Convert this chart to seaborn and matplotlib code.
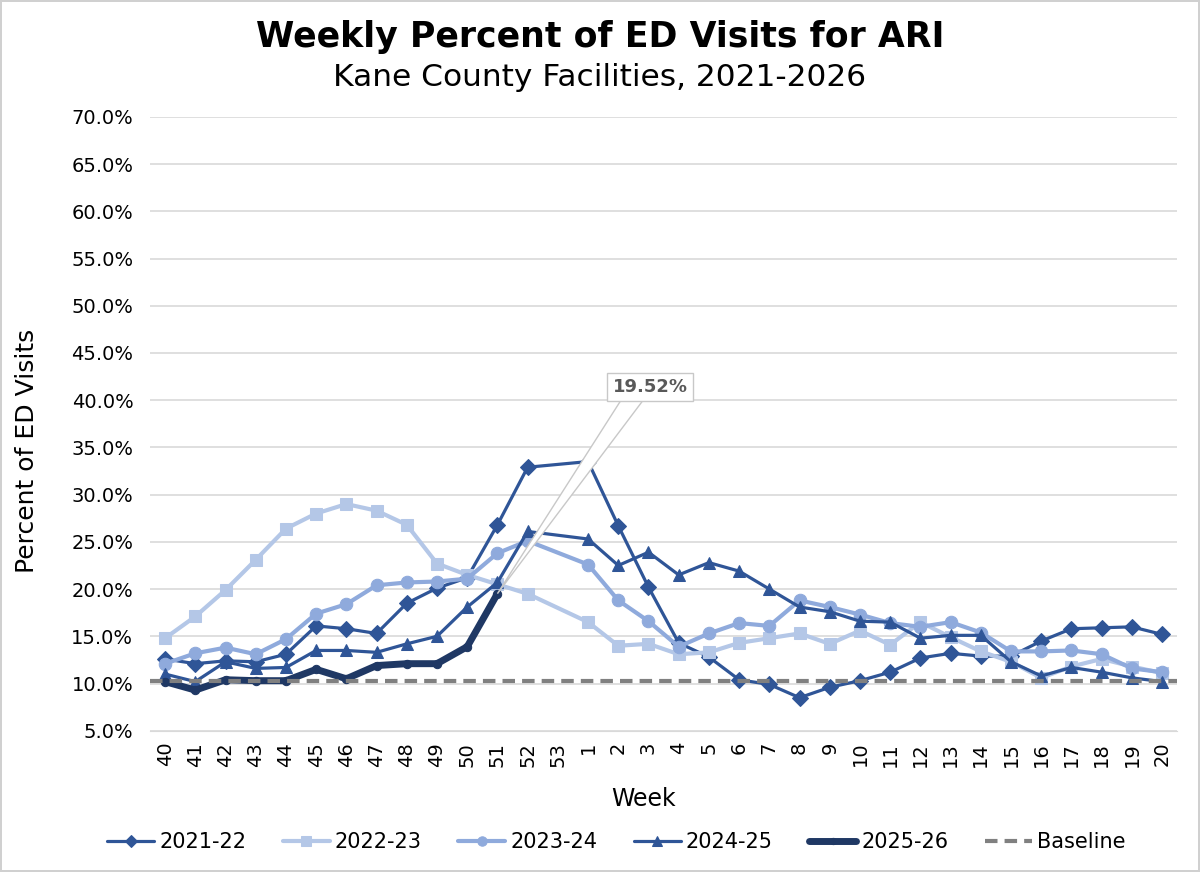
import numpy as np
import pandas as pd
import matplotlib
matplotlib.use("Agg")
import matplotlib.pyplot as plt
from matplotlib.patches import Polygon
import seaborn as sns

# week labels (flu season order)
weeks = ["40", "41", "42", "43", "44", "45", "46", "47", "48", "49", "50", "51", "52", "53",
         "1", "2", "3", "4", "5", "6", "7", "8", "9", "10", "11", "12", "13", "14", "15",
         "16", "17", "18", "19", "20"]

nan = np.nan
s2021_22 = [12.6, 12.1, 12.4, 12.3, 13.1, 16.1, 15.8, 15.3, 18.5, 20.1, 21.2, 26.8, 32.9, nan,
            33.5, 26.7, 20.2, 14.3, 12.8, 10.4, 9.9, 8.5, 9.6, 10.3, 11.2, 12.7, 13.2, 12.9,
            12.9, 14.5, 15.8, 15.9, 16.0, 15.2]
s2022_23 = [14.8, 17.1, 19.9, 23.1, 26.4, 28.0, 29.0, 28.3, 26.8, 22.7, 21.5, 20.5, 19.5, nan,
            16.5, 14.0, 14.2, 13.1, 13.3, 14.3, 14.8, 15.3, 14.2, 15.6, 14.1, 16.5, 14.9, 13.4,
            12.3, 10.6, 11.8, 12.6, 11.8, 11.1]
s2023_24 = [12.1, 13.2, 13.8, 13.1, 14.7, 17.4, 18.4, 20.4, 20.7, 20.8, 21.1, 23.8, 25.1, nan,
            22.6, 18.8, 16.6, 13.9, 15.3, 16.4, 16.1, 18.8, 18.1, 17.3, 16.4, 16.0, 16.5, 15.4,
            13.4, 13.4, 13.5, 13.1, 11.6, 11.2]
s2024_25 = [11.0, 10.2, 12.3, 11.6, 11.7, 13.5, 13.5, 13.3, 14.2, 15.0, 18.1, 20.7, 26.1, nan,
            25.3, 22.5, 23.9, 21.5, 22.8, 21.9, 20.0, 18.1, 17.6, 16.6, 16.5, 14.8, 15.1, 15.1,
            12.3, 10.8, 11.7, 11.2, 10.6, 10.2]
s2025_26 = [10.2, 9.3, 10.4, 10.3, 10.3, 11.5, 10.5, 11.9, 12.1, 12.1, 13.9, 19.52] + [nan] * 22
baseline = 10.3

seasons = ["2021-22", "2022-23", "2023-24", "2024-25", "2025-26"]
values = [s2021_22, s2022_23, s2023_24, s2024_25, s2025_26]
colors = ["#2F5597", "#B4C7E7", "#8FAADC", "#2F5597", "#1F3864"]
markers = ["D", "s", "o", "^", "o"]
msizes = [8, 9, 9, 9, 6]
lwidths = [2.3, 3.0, 3.0, 2.3, 5.0]

rows = []
for season, vals in zip(seasons, values):
    for i, v in enumerate(vals):
        rows.append({"Season": season, "idx": i, "Week": weeks[i], "Pct": v})
df = pd.DataFrame(rows).dropna()

sns.set_style("white")
plt.rcParams["font.family"] = ["DejaVu Sans"]
for k in ["text.color", "axes.labelcolor", "xtick.color", "ytick.color"]:
    plt.rcParams[k] = "black"

fig = plt.figure(figsize=(12, 8.72), dpi=100, edgecolor="#d0d0d0", linewidth=1.5)
ax = fig.add_axes([0.125, 0.162, 0.856, 0.704])

for season, c, m, ms, lw in zip(seasons, colors, markers, msizes, lwidths):
    sub = df[df["Season"] == season]
    sns.lineplot(data=sub, x="idx", y="Pct", ax=ax, color=c, marker=m, markersize=ms,
                 markeredgecolor=c, linewidth=lw, label=season, sort=True)

ax.plot([-0.5, len(weeks) - 0.5], [baseline, baseline], color="#808080", linewidth=3,
        linestyle=(0, (3, 1.7)), label="Baseline", zorder=5)

ax.set_xlim(-0.5, len(weeks) - 0.5)
ax.set_ylim(5, 70)
ax.set_yticks(np.arange(5, 70.1, 5))
ax.set_yticklabels([f"{t:.1f}%" for t in np.arange(5, 70.1, 5)], fontsize=14)
ax.set_xticks(range(len(weeks)))
ax.set_xticklabels(weeks, rotation=90, fontsize=14)
ax.tick_params(axis="both", length=0, pad=12)
ax.tick_params(axis="x", pad=8)
ax.grid(axis="y", color="#d9d9d9", linewidth=1.2)
ax.set_axisbelow(True)
for sp in ["top", "right", "left"]:
    ax.spines[sp].set_visible(False)
ax.spines["bottom"].set_color("#d9d9d9")

ax.set_xlabel("Week", fontsize=17, va="top")
ax.xaxis.set_label_coords(0.48, -0.092)
ax.set_ylabel("Percent of ED Visits", fontsize=18)
ax.yaxis.set_label_coords(-0.108, 0.456)

fig.text(0.5, 0.957, "Weekly Percent of ED Visits for ARI", ha="center", va="center",
         fontsize=25, fontweight="bold")
fig.text(0.5, 0.911, "Kane County Facilities, 2021-2026", ha="center", va="center", fontsize=22.5)

# callout on latest value
last_i = 11
tx, ty = 16.05, 41.4
ax.annotate(f"{s2025_26[last_i]:.2f}%", xy=(tx, ty), ha="center", va="center", fontsize=13,
            fontweight="bold", color="#595959",
            bbox=dict(boxstyle="square,pad=0.3", fc="white", ec="#c8c8c8", lw=1), zorder=11)
wedge = Polygon([(last_i, s2025_26[last_i]), (tx - 0.98, ty - 1.5), (tx - 0.25, ty - 1.5)],
                closed=True, fc="white", ec="#c8c8c8", lw=1, zorder=10)
ax.add_patch(wedge)

handles, labels = ax.get_legend_handles_labels()
ax.legend(handles, labels, loc="center", bbox_to_anchor=(0.454, -0.181), ncol=6, frameon=False,
          fontsize=15, handlelength=2.25, columnspacing=1.75, handletextpad=0.25, markerscale=0.75)

fig.savefig("out.png", dpi=100, edgecolor=fig.get_edgecolor())
